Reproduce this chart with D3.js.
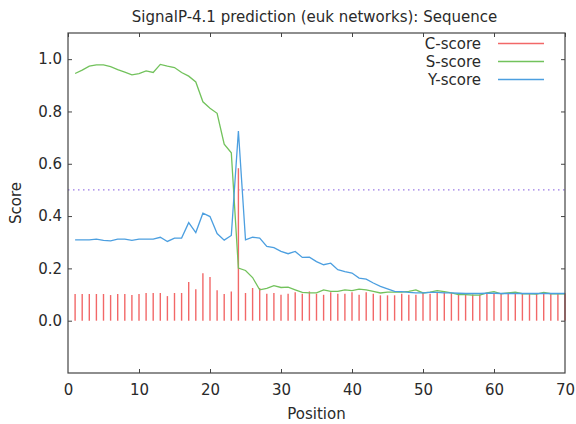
<!DOCTYPE html>
<html>
<head>
<meta charset="utf-8">
<script src="https://cdn.jsdelivr.net/npm/d3@7"></script>
<style>
  body { margin: 0; background: #fff; }
  text { font-family: "DejaVu Sans", sans-serif; fill: #2a2a2a; }
</style>
</head>
<body>
<div id="chart"></div>
<script>
// values, positions 1..70
var cScore = [0.102, 0.102, 0.102, 0.102, 0.102, 0.098, 0.102, 0.102, 0.098, 0.102,
              0.106, 0.106, 0.106, 0.094, 0.106, 0.106, 0.148, 0.120, 0.181, 0.167,
              0.116, 0.102, 0.112, 0.583, 0.106, 0.125, 0.125, 0.103, 0.106, 0.099,
              0.103, 0.109, 0.103, 0.112, 0.103, 0.099, 0.109, 0.103, 0.103, 0.109,
              0.099, 0.109, 0.103, 0.097, 0.097, 0.097, 0.103, 0.099, 0.099, 0.106,
              0.103, 0.106, 0.109, 0.106, 0.105, 0.100, 0.100, 0.100, 0.105, 0.105,
              0.105, 0.105, 0.105, 0.105, 0.105, 0.105, 0.105, 0.105, 0.105, 0.105];
var sScore = [0.945, 0.958, 0.973, 0.978, 0.978, 0.971, 0.960, 0.950, 0.940, 0.945,
              0.955, 0.949, 0.980, 0.973, 0.968, 0.949, 0.935, 0.913, 0.837, 0.812,
              0.793, 0.675, 0.642, 0.201, 0.192, 0.165, 0.118, 0.124, 0.134, 0.127,
              0.128, 0.118, 0.108, 0.106, 0.106, 0.118, 0.112, 0.112, 0.118, 0.115,
              0.121, 0.118, 0.112, 0.106, 0.109, 0.109, 0.109, 0.112, 0.118, 0.106,
              0.109, 0.115, 0.111, 0.106, 0.100, 0.100, 0.098, 0.098, 0.106, 0.111,
              0.103, 0.106, 0.109, 0.103, 0.103, 0.102, 0.108, 0.103, 0.103, 0.103];
var yScore = [0.309, 0.309, 0.309, 0.312, 0.307, 0.305, 0.312, 0.312, 0.307, 0.312,
              0.312, 0.312, 0.319, 0.303, 0.316, 0.316, 0.375, 0.337, 0.411, 0.398,
              0.333, 0.308, 0.326, 0.725, 0.309, 0.319, 0.316, 0.284, 0.279, 0.265,
              0.256, 0.265, 0.242, 0.243, 0.226, 0.214, 0.220, 0.195, 0.188, 0.182,
              0.163, 0.159, 0.144, 0.131, 0.122, 0.112, 0.111, 0.108, 0.106, 0.106,
              0.108, 0.108, 0.106, 0.106, 0.105, 0.104, 0.104, 0.104, 0.105, 0.105,
              0.104, 0.104, 0.104, 0.104, 0.104, 0.104, 0.104, 0.104, 0.104, 0.104];
var threshold = 0.5;
var xTicks = [0, 10, 20, 30, 40, 50, 60, 70];
var yTicks = [0.0, 0.2, 0.4, 0.6, 0.8, 1.0];
var seriesNames = ["C-score", "S-score", "Y-score"];
var seriesColors = ["#f26868", "#72c25c", "#4c9fe0"];

var width = 576, height = 424;
var margin = { left: 68, right: 11, top: 33, bottom: 51 };
var pw = width - margin.left - margin.right;
var ph = height - margin.top - margin.bottom;
var fs = "15px";

var svg = d3.select("#chart").append("svg")
    .attr("width", width)
    .attr("height", height);

var x = d3.scaleLinear().domain([0, 70]).range([0, pw]);
var y = d3.scaleLinear().domain([-0.2, 1.1]).range([ph, 0]);

var g = svg.append("g")
    .attr("transform", "translate(" + margin.left + "," + margin.top + ")");

var pos = d3.range(1, cScore.length + 1);

// threshold line
g.append("line")
    .attr("x1", x(0)).attr("x2", x(70))
    .attr("y1", y(threshold)).attr("y2", y(threshold))
    .attr("stroke", "#9c7be6")
    .attr("stroke-width", 1.2)
    .attr("stroke-dasharray", "1.5,3.5");

// C-score bars
g.selectAll("line.c")
    .data(pos)
    .enter()
    .append("line")
    .attr("class", "c")
    .attr("x1", d => x(d)).attr("x2", d => x(d))
    .attr("y1", y(0))
    .attr("y2", d => y(cScore[d - 1]))
    .attr("stroke", seriesColors[0])
    .attr("stroke-width", 1.4);

var line = d3.line()
    .x(d => x(d[0]))
    .y(d => y(d[1]));

g.append("path")
    .datum(pos.map(p => [p, sScore[p - 1]]))
    .attr("d", line)
    .attr("fill", "none")
    .attr("stroke", seriesColors[1])
    .attr("stroke-width", 1.3);

g.append("path")
    .datum(pos.map(p => [p, yScore[p - 1]]))
    .attr("d", line)
    .attr("fill", "none")
    .attr("stroke", seriesColors[2])
    .attr("stroke-width", 1.3);

// axes with inward ticks, mirrored on top/right
var axisColor = "#444";
var xAxis = d3.axisBottom(x).tickValues(xTicks).tickSize(-4).tickPadding(11).tickFormat(d3.format("d"));
var yAxis = d3.axisLeft(y).tickValues(yTicks).tickSize(-4).tickPadding(6).tickFormat(d3.format(".1f"));

var gx = g.append("g").attr("transform", "translate(0," + ph + ")").call(xAxis);
var gy = g.append("g").call(yAxis);
g.append("g").call(d3.axisTop(x).tickValues(xTicks).tickSize(-4).tickFormat(""));
g.append("g").attr("transform", "translate(" + pw + ",0)")
    .call(d3.axisRight(y).tickValues(yTicks).tickSize(-4).tickFormat(""));

g.selectAll(".domain").remove();
g.selectAll(".tick line").attr("stroke", axisColor).attr("stroke-width", 1);
g.selectAll(".tick text").style("font-size", fs).attr("fill", "#2a2a2a");
gx.selectAll(".tick line").filter(d => d === 0 || d === 70).remove();

g.append("rect")
    .attr("x", 0).attr("y", 0)
    .attr("width", pw).attr("height", ph)
    .attr("fill", "none")
    .attr("stroke", axisColor)
    .attr("stroke-width", 1.2);

// title and labels
svg.append("text")
    .attr("x", margin.left + pw / 2 - 2).attr("y", 22)
    .attr("text-anchor", "middle")
    .style("font-size", fs)
    .text("SignalP-4.1 prediction (euk networks): Sequence");

svg.append("text")
    .attr("x", margin.left + pw / 2).attr("y", 419)
    .attr("text-anchor", "middle")
    .style("font-size", fs)
    .text("Position");

svg.append("text")
    .attr("transform", "translate(21," + (margin.top + ph / 2) + ") rotate(-90)")
    .attr("text-anchor", "middle")
    .style("font-size", fs)
    .text("Score");

// legend
var leg = svg.append("g");
seriesNames.forEach(function (name, i) {
    var ly = 43.5 + i * 18;
    leg.append("text")
        .attr("x", 481).attr("y", ly + 5)
        .attr("text-anchor", "end")
        .style("font-size", fs)
        .text(name);
    leg.append("line")
        .attr("x1", 498).attr("x2", 544)
        .attr("y1", ly).attr("y2", ly)
        .attr("stroke", seriesColors[i])
        .attr("stroke-width", 1.3);
});
</script>
</body>
</html>
